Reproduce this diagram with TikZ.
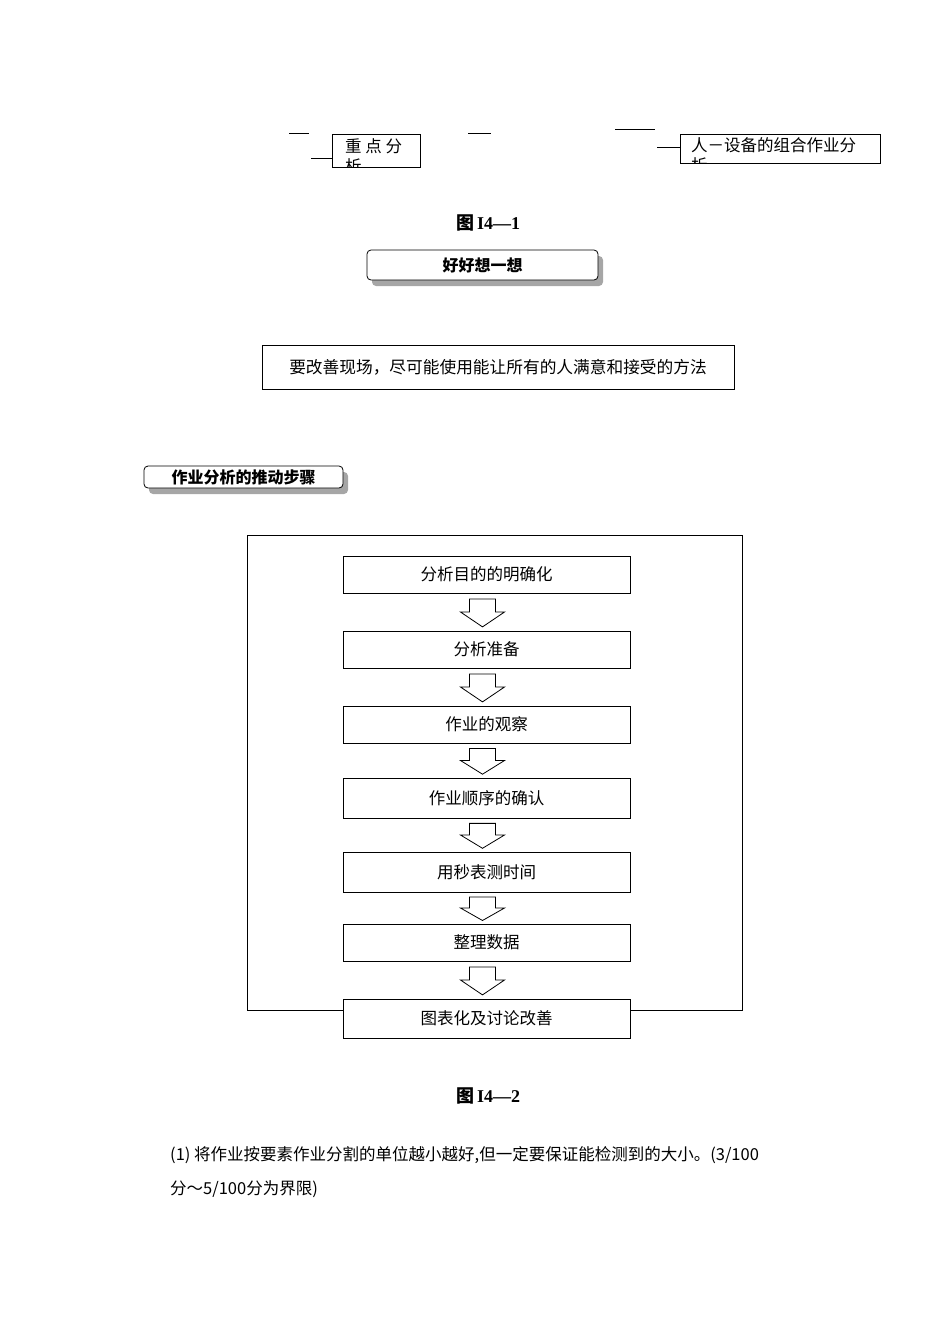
\documentclass[tikz,border=0pt]{standalone}
\usepackage{fontspec}
\setmainfont{Liberation Serif}
\newfontfamily\cjk{Noto Sans CJK SC}
\begin{document}
\begin{tikzpicture}[x=1pt,y=-1pt,
  ln/.style={line width=1pt},
  stepbox/.style={draw,fill=white,line width=0.8pt,minimum width=287pt,minimum height=37pt,inner sep=0pt,font=\cjk\fontsize{16.5}{18}\selectfont},
  tag/.style={draw,rounded corners=4pt,fill=white,line width=0.8pt,inner sep=0pt,font=\cjk\bfseries\fontsize{16}{18}\selectfont},
  captxt/.style={font=\bfseries\fontsize{18}{20}\selectfont},
  harrow/.style={draw,fill=white,line width=0.8pt}]
\useasboundingbox (0,0) rectangle (950,1344);
% top fragments
\draw[ln] (289,133) -- (309,133);
\draw[ln] (311,158) -- (332,158);
\draw[ln] (468,133) -- (491,133);
\draw[ln] (615,129) -- (655,129);
\draw[ln] (657,147) -- (680,147);
\begin{scope}
\clip (332,134) rectangle (420,167);
\node[anchor=north west,align=left,font=\cjk\fontsize{16.5}{20}\selectfont,inner sep=0pt] (t1) at (345,138) {重 点 分\\析};
\end{scope}
\draw[line width=0.9pt] (332,134) rectangle (420,167);
\begin{scope}
\clip (680,134) rectangle (880,163);
\node[anchor=north west,align=left,font=\cjk\fontsize{16.5}{20}\selectfont,inner sep=0pt] (t2) at (691,137) {人－设备的组合作业分\\析};
\end{scope}
\draw[line width=0.9pt] (680,134) rectangle (880,163);
\node[captxt] (c1) at (488,223) {\cjk\bfseries 图\,\rmfamily I4—1};
% think box
\fill[gray!70,rounded corners=4pt] (372,256) rectangle (603,286);
\node[tag,minimum width=231pt,minimum height=30pt] (think) at (482.5,265) {好好想一想};
\node[draw,line width=0.8pt,minimum width=472pt,minimum height=44pt,inner sep=0pt,font=\cjk\fontsize{16.7}{18}\selectfont] (msg) at (498,367) {要改善现场，尽可能使用能让所有的人满意和接受的方法};
\fill[gray!70,rounded corners=4pt] (149,472) rectangle (348,494);
\node[tag,minimum width=199pt,minimum height=22pt] (steps) at (243.5,477) {作业分析的推动步骤};
% frame
\draw[line width=0.8pt] (247,535) rectangle (742,1010);
\node[stepbox] (s1) at (486.5,574.5) {分析目的的明确化};
\node[stepbox] (s2) at (486.5,649.5) {分析准备};
\node[stepbox] (s3) at (486.5,724.5) {作业的观察};
\node[stepbox,minimum height=40pt] (s4) at (486.5,798) {作业顺序的确认};
\node[stepbox,minimum height=40pt] (s5) at (486.5,872) {用秒表测时间};
\node[stepbox] (s6) at (486.5,942.5) {整理数据};
\node[stepbox,minimum height=39pt] (s7) at (486.5,1018.5) {图表化及讨论改善};
\foreach \a/\b in {s1/s2,s2/s3,s3/s4,s4/s5,s5/s6,s6/s7}{
  \path (\a.south) -- (\b.north) coordinate[pos=0.15] (top\a) coordinate[pos=0.5] (mid\a) coordinate[pos=0.9] (tip\a);
  \draw[harrow] ([xshift=-17pt]top\a) -- ([xshift=9pt]top\a) -- ([xshift=9pt]mid\a) -- ([xshift=18pt]mid\a) -- ([xshift=-4pt]tip\a) -- ([xshift=-26pt]mid\a) -- ([xshift=-17pt]mid\a) -- cycle;
}
\node[captxt] (c2) at (488,1096) {\cjk\bfseries 图\,\rmfamily I4—2};
\node[anchor=west,inner sep=0pt,font=\cjk\fontsize{16.5}{18}\selectfont] (p1) at (170,1155) {(1) 将作业按要素作业分割的单位越小越好,但一定要保证能检测到的大小。(3/100};
\node[anchor=west,inner sep=0pt,font=\cjk\fontsize{16.5}{18}\selectfont] (p2) at (170,1189) {分～5/100分为界限)};
\end{tikzpicture}
\end{document}
